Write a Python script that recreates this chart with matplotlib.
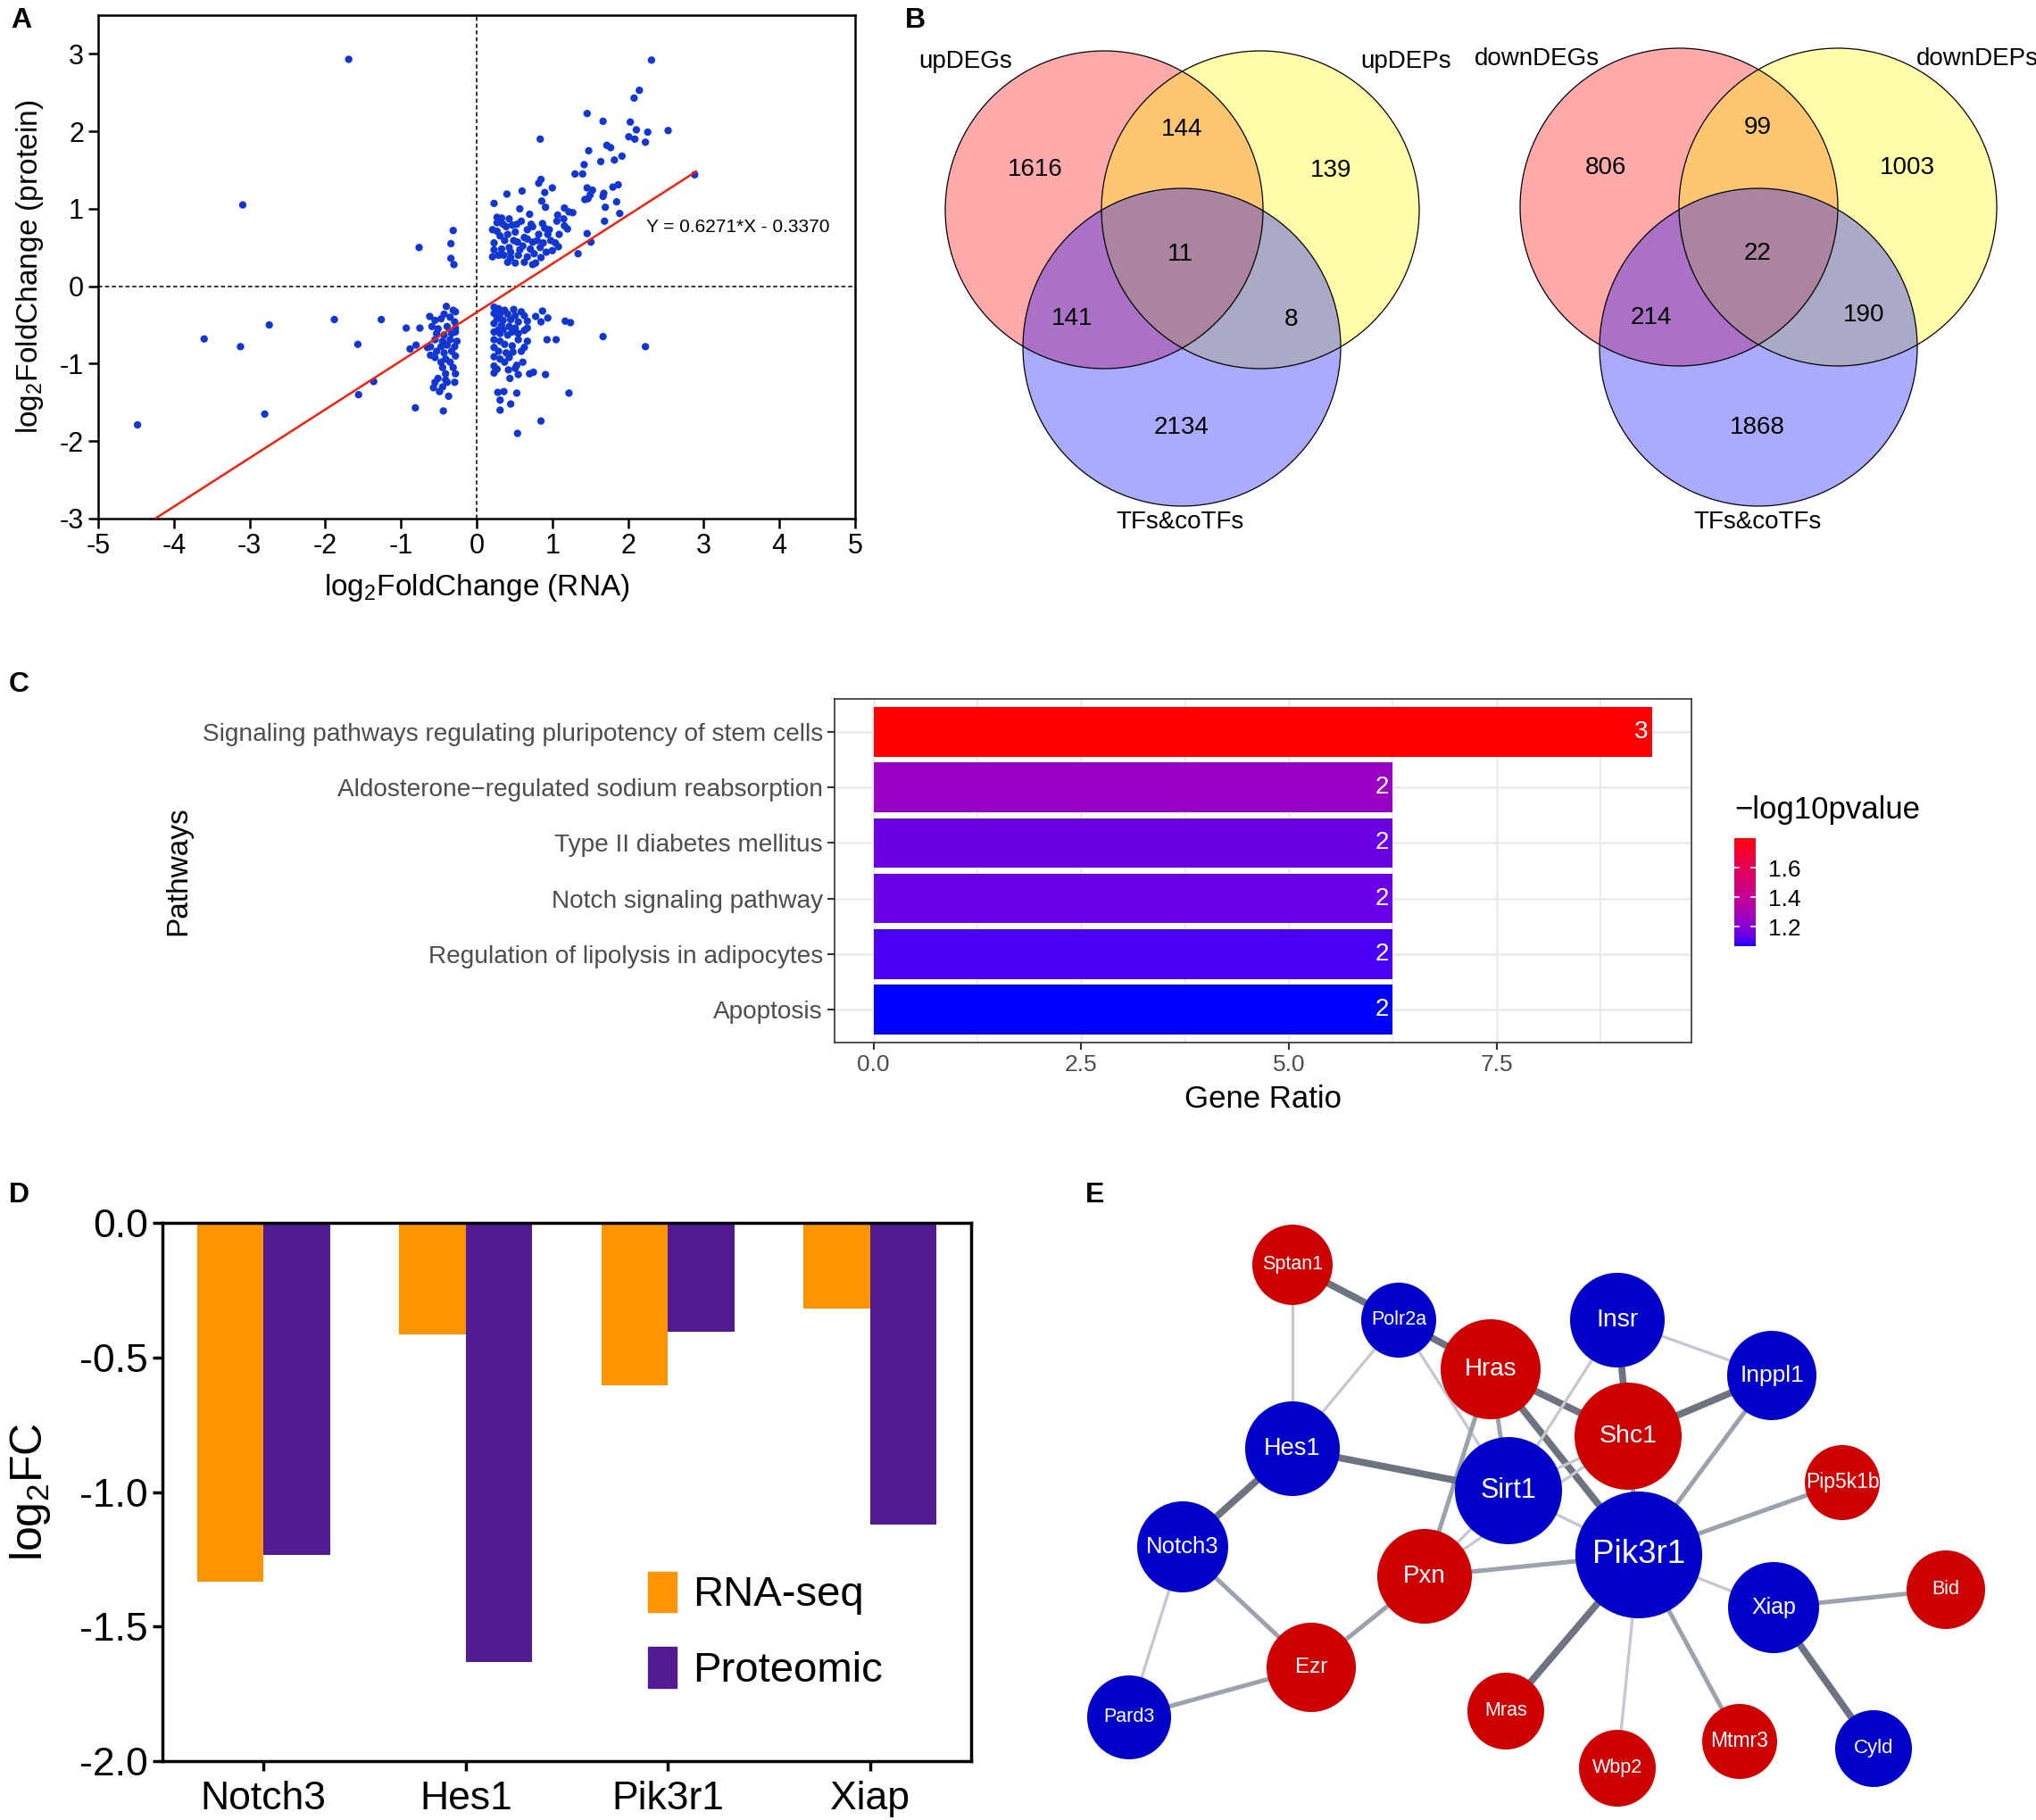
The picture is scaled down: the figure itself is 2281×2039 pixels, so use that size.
import numpy as np
import matplotlib
matplotlib.use('Agg')
import matplotlib.pyplot as plt
from matplotlib import font_manager
from matplotlib.patches import Circle, Patch
from matplotlib.colors import ListedColormap, Normalize
import matplotlib.colorbar as mcolorbar

avail = {f.name for f in font_manager.fontManager.ttflist}
FONT = next((f for f in ['Liberation Sans', 'Arial', 'Helvetica', 'DejaVu Sans'] if f in avail), 'DejaVu Sans')
plt.rcParams['font.family'] = [FONT, 'DejaVu Sans']
plt.rcParams['axes.unicode_minus'] = False
plt.rcParams['mathtext.fontset'] = 'custom'
plt.rcParams['mathtext.rm'] = FONT
plt.rcParams['mathtext.it'] = FONT + ':italic'
plt.rcParams['mathtext.bf'] = FONT + ':bold'

# ---------------------------------------------------------------- data
# Panel A: log2FC RNA (x) vs protein (y)
up_right_cluster = [
    (2.31, 2.92), (2.15, 2.53), (2.08, 2.43), (1.46, 2.23), (1.67, 2.13), (2.03, 2.12), (2.11, 2.02),
    (2.26, 1.99), (2.53, 2.01), (2.01, 1.93), (2.09, 1.90), (2.23, 1.86), (0.84, 1.90), (1.48, 1.75),
    (1.72, 1.82), (1.77, 1.79), (1.92, 1.68), (1.82, 1.63), (1.64, 1.61), (1.42, 1.57), (1.30, 1.45),
    (1.40, 1.45), (2.88, 1.44), (0.85, 1.38), (0.82, 1.33), (1.46, 1.27), (1.53, 1.24), (1.80, 1.28),
    (1.87, 1.31), (1.68, 1.20), (1.67, 1.16), (1.50, 1.18), (1.47, 1.13), (1.43, 1.12), (0.60, 1.23),
    (0.40, 1.19), (0.90, 1.21), (1.00, 1.27), (0.86, 1.10), (0.23, 1.07), (1.85, 1.09), (1.70, 1.02),
    (1.89, 0.94), (1.69, 0.84), (1.46, 0.68), (1.51, 0.57), (1.34, 0.42), (0.91, 1.02), (0.57, 1.00),
    (1.16, 1.01), (1.22, 0.96), (1.27, 0.95), (0.70, 0.93), (1.07, 0.92), (1.15, 0.87), (1.06, 0.84),
    (1.20, 0.74), (1.16, 0.78),
    (0.27, 0.89), (0.33, 0.88), (0.43, 0.87), (0.27, 0.82), (0.35, 0.80), (0.21, 0.73), (0.27, 0.71),
    (0.39, 0.77), (0.47, 0.79), (0.53, 0.80), (0.59, 0.84), (0.72, 0.80), (0.74, 0.77), (0.87, 0.81),
    (0.90, 0.75), (0.96, 0.73), (0.31, 0.65), (0.41, 0.67), (0.51, 0.70), (0.67, 0.73), (0.82, 0.67),
    (0.94, 0.67), (1.09, 0.67), (0.23, 0.56), (0.37, 0.59), (0.54, 0.57), (0.67, 0.61), (0.80, 0.59),
    (0.98, 0.59), (1.04, 0.56), (1.08, 0.51), (0.23, 0.47), (0.33, 0.48), (0.43, 0.50), (0.57, 0.47),
    (0.71, 0.48), (0.84, 0.50), (1.00, 0.46), (0.21, 0.38), (0.36, 0.40), (0.45, 0.37), (0.55, 0.40),
    (0.67, 0.38), (0.76, 0.42), (0.85, 0.37), (0.41, 0.31), (0.51, 0.30), (0.63, 0.31), (0.74, 0.28),
    (0.78, 0.30), (0.45, 0.44), (0.61, 0.52), (0.88, 0.56), (0.29, 0.40), (0.49, 0.59), (0.63, 0.63),
    (0.74, 0.57), (0.92, 0.44),
]
down_left_cluster = [
    (-0.40, -0.26), (-0.62, -0.39), (-0.43, -0.36), (-0.31, -0.31), (-0.28, -0.33), (-0.55, -0.44),
    (-0.47, -0.42), (-0.35, -0.40), (-0.29, -0.46), (-0.93, -0.54), (-0.75, -0.54), (-0.59, -0.52),
    (-0.51, -0.55), (-0.39, -0.52), (-0.28, -0.54), (-0.53, -0.61), (-0.43, -0.63), (-0.33, -0.61),
    (-0.28, -0.59), (-0.55, -0.69), (-0.45, -0.71), (-0.35, -0.69), (-0.26, -0.71), (-0.88, -0.81),
    (-0.80, -0.76), (-0.65, -0.79), (-0.61, -0.78), (-0.47, -0.78), (-0.39, -0.76), (-0.29, -0.78),
    (-0.53, -0.84), (-0.43, -0.86), (-0.33, -0.84), (-0.61, -0.89), (-0.55, -0.92), (-0.41, -0.94),
    (-0.28, -0.90), (-0.47, -0.98), (-0.35, -0.98), (-0.45, -1.05), (-0.31, -1.05), (-0.41, -1.13),
    (-0.28, -1.13), (-0.51, -1.19), (-0.41, -1.21), (-0.29, -1.24), (-0.55, -1.24), (-0.57, -1.31),
    (-0.49, -1.36), (-0.45, -1.30), (-0.37, -1.42), (-0.81, -1.57), (-0.44, -1.61), (-0.39, -1.24),
]
down_right_cluster = [
    (0.23, -0.27), (0.29, -0.29), (0.37, -0.31), (0.49, -0.30), (0.59, -0.33), (0.23, -0.35),
    (0.31, -0.36), (0.41, -0.36), (0.51, -0.38), (0.63, -0.38), (0.67, -0.45), (0.27, -0.42),
    (0.35, -0.44), (0.45, -0.43), (0.55, -0.46), (0.23, -0.48), (0.33, -0.50), (0.43, -0.52),
    (0.51, -0.54), (0.67, -0.54), (0.63, -0.57), (0.23, -0.59), (0.31, -0.61), (0.41, -0.63),
    (0.55, -0.69), (0.67, -0.71), (0.23, -0.69), (0.31, -0.71), (0.37, -0.75), (0.47, -0.77),
    (0.63, -0.79), (0.59, -0.84), (0.23, -0.79), (0.29, -0.84), (0.39, -0.86), (0.48, -0.85),
    (0.43, -0.92), (0.23, -0.91), (0.61, -0.98), (0.31, -0.94), (0.37, -0.98), (0.53, -1.02),
    (0.23, -1.03), (0.27, -1.07), (0.23, -1.12), (0.42, -1.08), (0.51, -1.06), (0.55, -1.14),
    (0.70, -1.13), (0.75, -1.11), (0.91, -1.14), (0.44, -1.19), (0.78, -0.39), (0.87, -0.32),
    (0.85, -0.46), (0.94, -0.41), (1.17, -0.45), (1.24, -0.47), (0.93, -0.69), (1.05, -0.69),
    (0.28, -1.37), (0.36, -1.36), (0.53, -1.38), (0.31, -1.47), (0.45, -1.52), (0.31, -1.60),
    (1.22, -1.38), (0.85, -1.74), (0.54, -1.90), (0.27, -0.33), (0.35, -0.56), (0.47, -0.59),
    (0.29, -0.56), (0.55, -0.61),
]
sparse_points = [
    (-1.69, 2.93), (-3.09, 1.05), (-0.76, 0.50), (-0.31, 0.72), (-0.34, 0.55), (-0.34, 0.36),
    (-0.30, 0.28), (-3.60, -0.68), (-2.74, -0.50), (-3.12, -0.78), (-1.88, -0.43), (-1.26, -0.43),
    (-1.57, -0.75), (-4.48, -1.79), (-2.80, -1.65), (-1.36, -1.23), (-1.56, -1.40), (1.67, -0.65),
    (2.23, -0.78),
]
fit_slope = 0.6271
fit_intercept = -0.3370
fit_x_range = [-4.246, 2.90]

# Panel B: Venn counts
venn_up_labels = ['upDEGs', 'upDEPs', 'TFs&coTFs']
venn_up_counts = {'A': 1616, 'AB': 144, 'B': 139, 'ABC': 11, 'AC': 141, 'BC': 8, 'C': 2134}
venn_down_labels = ['downDEGs', 'downDEPs', 'TFs&coTFs']
venn_down_counts = {'A': 806, 'AB': 99, 'B': 1003, 'ABC': 22, 'AC': 214, 'BC': 190, 'C': 1868}

# Panel C: pathways
pathways = ['Signaling pathways regulating pluripotency of stem cells',
            'Aldosterone\u2212regulated sodium reabsorption',
            'Type II diabetes mellitus',
            'Notch signaling pathway',
            'Regulation of lipolysis in adipocytes',
            'Apoptosis']
gene_ratio = [9.375, 6.25, 6.25, 6.25, 6.25, 6.25]
gene_count = [3, 2, 2, 2, 2, 2]
neg_log10_p = [1.80, 1.25, 1.15, 1.145, 1.105, 1.07]

# Panel D
genes_d = ['Notch3', 'Hes1', 'Pik3r1', 'Xiap']
rna_seq = [-1.333, -0.415, -0.602, -0.318]
proteomic = [-1.234, -1.632, -0.404, -1.121]

# Panel E: network (nodes: name, regulation group; edges with score level)
node_names = ['Sptan1', 'Polr2a', 'Hras', 'Insr', 'Inppl1', 'Hes1', 'Shc1', 'Sirt1', 'Pip5k1b',
              'Notch3', 'Pik3r1', 'Pxn', 'Xiap', 'Bid', 'Ezr', 'Pard3', 'Mras', 'Wbp2', 'Mtmr3', 'Cyld']
node_group = ['up', 'down', 'up', 'down', 'down', 'down', 'up', 'down', 'up',
              'down', 'down', 'up', 'down', 'up', 'up', 'down', 'up', 'up', 'up', 'down']
edges = [('Sptan1', 'Polr2a', 3), ('Sptan1', 'Hes1', 1), ('Polr2a', 'Hes1', 1), ('Polr2a', 'Hras', 3),
         ('Polr2a', 'Sirt1', 1), ('Hras', 'Shc1', 3), ('Hras', 'Pik3r1', 3), ('Hras', 'Sirt1', 2),
         ('Hras', 'Pxn', 2), ('Insr', 'Shc1', 3), ('Insr', 'Inppl1', 1), ('Insr', 'Sirt1', 1),
         ('Inppl1', 'Shc1', 3), ('Inppl1', 'Pik3r1', 2), ('Hes1', 'Sirt1', 3), ('Hes1', 'Notch3', 3),
         ('Shc1', 'Sirt1', 1), ('Sirt1', 'Pxn', 1), ('Shc1', 'Pxn', 1), ('Shc1', 'Pik3r1', 2),
         ('Sirt1', 'Pik3r1', 1), ('Pik3r1', 'Pip5k1b', 2), ('Pik3r1', 'Pxn', 2), ('Pik3r1', 'Xiap', 1),
         ('Pik3r1', 'Mras', 3), ('Pik3r1', 'Wbp2', 1), ('Pik3r1', 'Mtmr3', 2), ('Notch3', 'Ezr', 2),
         ('Notch3', 'Pard3', 1), ('Pxn', 'Ezr', 2), ('Ezr', 'Pard3', 2), ('Xiap', 'Bid', 2),
         ('Xiap', 'Cyld', 3)]

# ---------------------------------------------------------------- figure
W, H = 2281, 2039
fig = plt.figure(figsize=(W / 100, H / 100), dpi=100)


def px_axes(x0, y0, x1, y1, **kw):
    return fig.add_axes([x0 / W, 1 - y1 / H, (x1 - x0) / W, (y1 - y0) / H], **kw)


def panel_letter(x, y, s):
    fig.text(x / W, 1 - y / H, s, fontsize=23, fontweight='bold', ha='left', va='top')


# ---------------- Panel A
axA = px_axes(110, 17, 958, 581)
pts = np.array(up_right_cluster + down_left_cluster + down_right_cluster + sparse_points)
axA.axvline(0, color='black', lw=1.1, ls=(0, (3, 2)), zorder=1)
axA.axhline(0, color='black', lw=1.1, ls=(0, (3, 2)), zorder=1)
axA.scatter(pts[:, 0], pts[:, 1], s=36, color='#1236D0', edgecolors='none', zorder=2)
fx = np.array(fit_x_range)
axA.plot(fx, fit_slope * fx + fit_intercept, color='#EE2211', lw=1.8, zorder=3)
axA.text(2.24, 0.76, 'Y = 0.6271*X - 0.3370', fontsize=15, ha='left', va='center')
axA.set_xlim(-5, 5)
axA.set_ylim(-3, 3.5)
axA.set_xticks(range(-5, 6))
axA.set_yticks(range(-3, 4))
axA.tick_params(labelsize=22, width=1.8, length=8, direction='out')
for sp in axA.spines.values():
    sp.set_linewidth(1.8)
axA.set_xlabel(r'log$_2$FoldChange (RNA)', fontsize=24, labelpad=10)
axA.set_ylabel(r'log$_2$FoldChange (protein)', fontsize=24, labelpad=11)
panel_letter(12, 8, 'A')

# ---------------- Panel B
axB = px_axes(1000, 0, 2281, 650)
axB.set_xlim(1000, 2281)
axB.set_ylim(650, 0)
axB.axis('off')
R = 178
venn_layouts = [
    dict(centers=[(1237, 235), (1412, 235), (1324, 389)],
         label_pos=[(1082, 69, 'center'), (1575, 69, 'center'), (1322, 585, 'center')],
         count_pos={'A': (1160, 190), 'AB': (1324, 145), 'B': (1491, 191), 'ABC': (1322, 285),
                    'AC': (1201, 357), 'BC': (1446, 358), 'C': (1324, 479)},
         labels=venn_up_labels, counts=venn_up_counts),
    dict(centers=[(1881, 232), (2059, 232), (1970, 389)],
         label_pos=[(1722, 66, 'center'), (2215, 66, 'center'), (1969, 585, 'center')],
         count_pos={'A': (1799, 188), 'AB': (1969, 143), 'B': (2137, 188), 'ABC': (1969, 284),
                    'AC': (1850, 356), 'BC': (2088, 353), 'C': (1969, 479)},
         labels=venn_down_labels, counts=venn_down_counts),
]
venn_fill = [(1, 0, 0, 1 / 3), (1, 1, 0, 1 / 3), (0, 0, 1, 1 / 3)]
for lay in venn_layouts:
    for (cx, cy), fc in zip(lay['centers'], venn_fill):
        axB.add_patch(Circle((cx, cy), R, facecolor=fc, edgecolor='none'))
    for (cx, cy) in lay['centers']:
        axB.add_patch(Circle((cx, cy), R, fill=False, edgecolor='black', lw=0.9))
    for key, (x, y) in lay['count_pos'].items():
        axB.text(x, y, str(lay['counts'][key]), fontsize=20, ha='center', va='center')
    for (x, y, ha), lab in zip(lay['label_pos'], lay['labels']):
        axB.text(x, y, lab, fontsize=20, ha=ha, va='center')
panel_letter(1014, 8, 'B')


# ---------------- Panel C
def _srgb_to_lab(c):
    c = np.asarray(c, float)
    lin = np.where(c <= 0.04045, c / 12.92, ((c + 0.055) / 1.055) ** 2.4)
    M = np.array([[0.4124, 0.3576, 0.1805], [0.2126, 0.7152, 0.0722], [0.0193, 0.1192, 0.9505]])
    xyz = M @ lin / np.array([0.95047, 1.0, 1.08883])
    d = 6 / 29
    f = np.where(xyz > d ** 3, np.cbrt(xyz), xyz / (3 * d * d) + 4 / 29)
    return np.array([116 * f[1] - 16, 500 * (f[0] - f[1]), 200 * (f[1] - f[2])])


def _lab_to_srgb(lab):
    L, a, b = lab
    fy = (L + 16) / 116
    fx = fy + a / 500
    fz = fy - b / 200
    d = 6 / 29
    f = np.array([fx, fy, fz])
    xyz = np.where(f > d, f ** 3, 3 * d * d * (f - 4 / 29)) * np.array([0.95047, 1.0, 1.08883])
    Minv = np.linalg.inv(np.array([[0.4124, 0.3576, 0.1805], [0.2126, 0.7152, 0.0722],
                                   [0.0193, 0.1192, 0.9505]]))
    lin = np.clip(Minv @ xyz, 0, 1)
    c = np.where(lin <= 0.0031308, 12.92 * lin, 1.055 * lin ** (1 / 2.4) - 0.055)
    return np.clip(c, 0, 1)


lab_lo = _srgb_to_lab([0, 0, 1])
lab_hi = _srgb_to_lab([1, 0, 0])
ramp = [_lab_to_srgb(lab_lo + t * (lab_hi - lab_lo)) for t in np.linspace(0, 1, 256)]
cmap_c = ListedColormap(ramp)
norm_c = Normalize(vmin=min(neg_log10_p), vmax=max(neg_log10_p))

axC = px_axes(935, 783, 1895, 1168)
ypos = np.arange(len(pathways))[::-1]
axC.set_axisbelow(True)
for xv in [1.25, 3.75, 6.25, 8.75]:
    axC.axvline(xv, color='#EBEBEB', lw=1.4, zorder=0)
for xv in [0, 2.5, 5, 7.5]:
    axC.axvline(xv, color='#EBEBEB', lw=2.0, zorder=0)
for yv in ypos:
    axC.axhline(yv, color='#EBEBEB', lw=2.0, zorder=0)
axC.barh(ypos, gene_ratio, height=0.9, color=cmap_c(norm_c(np.array(neg_log10_p))), zorder=2)
for y, v, n in zip(ypos, gene_ratio, gene_count):
    axC.text(v - 0.05, y, str(n), color='white', fontsize=20, ha='right', va='center', zorder=3)
axC.set_xlim(-0.469, 9.844)
axC.set_ylim(-0.6, len(pathways) - 0.4)
axC.set_yticks(ypos)
axC.set_yticklabels(pathways, fontsize=20.2)
axC.set_xticks([0, 2.5, 5, 7.5])
axC.set_xticklabels(['0.0', '2.5', '5.0', '7.5'], fontsize=19)
axC.tick_params(labelcolor='#4D4D4D', color='#333333', width=1.5, length=6)
for sp in axC.spines.values():
    sp.set_color('#333333')
    sp.set_linewidth(1.2)
axC.set_xlabel('Gene Ratio', fontsize=25, labelpad=7)
axC.set_ylabel('Pathways', fontsize=24, labelpad=8)

caxC = px_axes(1943, 939, 1967, 1060)
cb = mcolorbar.ColorbarBase(caxC, cmap=cmap_c, norm=norm_c, orientation='vertical')
cb.outline.set_visible(False)
cb.set_ticks([1.2, 1.4, 1.6])
cb.set_ticklabels(['1.2', '1.4', '1.6'])
caxC.tick_params(labelsize=19, length=0, pad=10)
for t in [1.2, 1.4, 1.6]:
    caxC.plot([0, 0.2], [t, t], color='white', lw=1.2, transform=caxC.get_yaxis_transform())
    caxC.plot([0.8, 1.0], [t, t], color='white', lw=1.2, transform=caxC.get_yaxis_transform())
fig.text(1943 / W, 1 - 908 / H, '\u2212log10pvalue', fontsize=25, ha='left', va='center')
panel_letter(10, 752, 'C')

# ---------------- Panel D
axD = px_axes(182, 1370, 1088, 1973)
xd = np.arange(len(genes_d))
bw = 0.33
axD.bar(xd - bw / 2, rna_seq, width=bw, color='#FF9300', label='RNA-seq')
axD.bar(xd + bw / 2, proteomic, width=bw, color='#531B93', label='Proteomic')
axD.set_xlim(-0.5, len(genes_d) - 0.5)
axD.set_ylim(-2.0, 0.0)
axD.set_yticks([0.0, -0.5, -1.0, -1.5, -2.0])
axD.set_yticklabels(['0.0', '-0.5', '-1.0', '-1.5', '-2.0'])
axD.set_xticks(xd)
axD.set_xticklabels(genes_d)
axD.tick_params(labelsize=32, width=2.5, length=8, direction='out')
axD.tick_params(axis='x', pad=8)
for sp in axD.spines.values():
    sp.set_linewidth(2.5)
axD.set_ylabel(r'log$_2$FC', fontsize=36, labelpad=22)
axD.legend(handles=[Patch(color='#FF9300', label='RNA-seq'), Patch(color='#531B93', label='Proteomic')],
           loc='upper left', bbox_to_anchor=(0.600, 0.352), frameon=False, fontsize=34,
           handlelength=0.68, handleheight=1.1, handletextpad=0.4, labelspacing=0.76,
           borderpad=0, borderaxespad=0)
panel_letter(10, 1324, 'D')

# ---------------- Panel E
axE = px_axes(1180, 1300, 2281, 2039)
axE.set_xlim(1180, 2281)
axE.set_ylim(2039, 1300)
axE.axis('off')
node_layout = {
    'Sptan1': (1448, 1417, 45, 15.5), 'Polr2a': (1567, 1479, 42, 15.5), 'Hras': (1670, 1534, 56, 20),
    'Insr': (1812, 1479, 53, 20.5), 'Inppl1': (1985, 1541, 50, 19), 'Hes1': (1448, 1623, 53, 19.5),
    'Shc1': (1824, 1609, 60, 20.5), 'Sirt1': (1690, 1670, 60, 22), 'Pip5k1b': (2064, 1661, 42, 16.5),
    'Notch3': (1325, 1733, 51, 18.5), 'Pik3r1': (1836, 1742, 71, 26.5), 'Pxn': (1596, 1766, 53, 20),
    'Xiap': (1987, 1801, 51, 18), 'Bid': (2180, 1781, 44, 15.5), 'Ezr': (1469, 1868, 50, 17.5),
    'Pard3': (1265, 1924, 47, 15.5), 'Mras': (1687, 1917, 43, 15.5), 'Wbp2': (1812, 1981, 43, 15.5),
    'Mtmr3': (1949, 1951, 42, 16.5), 'Cyld': (2099, 1959, 43, 16),
}
edge_style = {1: ('#C4C8CF', 2.4), 2: ('#9CA2AC', 3.6), 3: ('#6D7480', 5.6)}
for a, b, lvl in edges:
    xa, ya = node_layout[a][:2]
    xb, yb = node_layout[b][:2]
    col, lw = edge_style[lvl]
    axE.plot([xa, xb], [ya, yb], color=col, lw=lw, solid_capstyle='butt', zorder=1)
group_color = {'up': '#CC0000', 'down': '#0000C8'}
for name, grp in zip(node_names, node_group):
    x, y, r, fs = node_layout[name]
    axE.add_patch(Circle((x, y), r, facecolor=group_color[grp], edgecolor='none', zorder=2))
    axE.text(x, y, name, color='white', fontsize=fs, ha='center', va='center', zorder=3)
panel_letter(1216, 1324, 'E')

fig.savefig('out.png', dpi=100)
